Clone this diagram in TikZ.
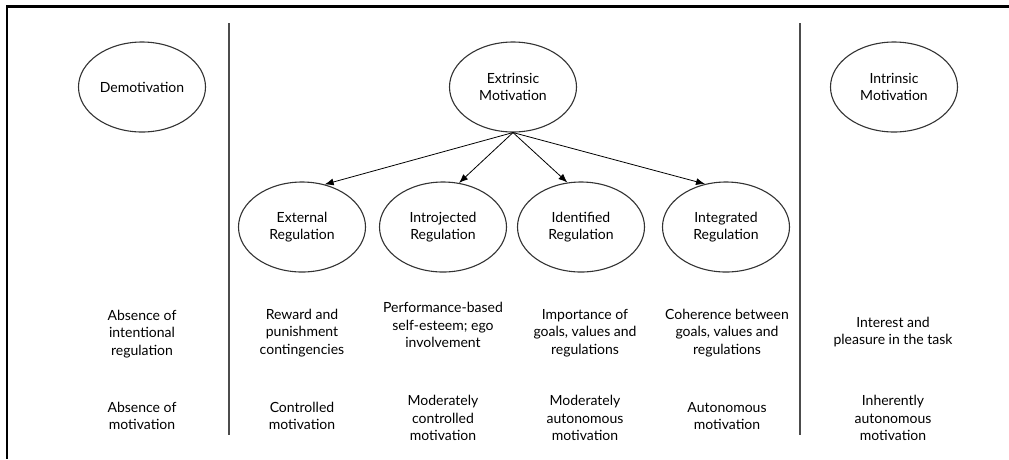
\documentclass[tikz,border=0pt]{standalone}
\usepackage{fontspec}
\setmainfont{Lato}
\usetikzlibrary{shapes.geometric,arrows.meta}

\begin{document}
\begin{tikzpicture}[x=1pt,y=-1pt,thick,>={Latex[length=9pt,width=7pt]},
    motive/.style={draw=black!80,line width=1.1pt,ellipse,minimum width=127pt,minimum height=90pt,inner sep=0pt,align=center,font=\fontsize{14}{17}\selectfont,text=black},
    note/.style={align=center,font=\fontsize{14}{17.5}\selectfont,text=black},
    divider/.style={draw=black!70,line width=1.3pt}]

    \useasboundingbox (0,0) rectangle (1009,459);

    % FRAME
    \draw[line width=2.2pt] (1009,6.5) -- (7,6.5) -- (7,459);

    % DIVIDERS
    \coordinate (d1t) at (229,23);
    \coordinate (d1b) at (229,435);
    \coordinate (d2t) at (800,23);
    \coordinate (d2b) at (800,435);
    \draw[divider] (d1t) to (d1b);
    \draw[divider] (d2t) to (d2b);

    % ROW 1
    \node[motive] (demot) at (142,87) {Demotivation};
    \node[motive] (extr) at (513,87) {Extrinsic\\Motivation};
    \node[motive] (intr) at (894,87) {Intrinsic\\Motivation};

    % ROW 2
    \node[motive] (extreg) at (302,227) {External\\Regulation};
    \node[motive] (introreg) at (443,227) {Introjected\\Regulation};
    \node[motive] (identreg) at (581,227) {Identified\\Regulation};
    \node[motive] (integreg) at (726,227) {Integrated\\Regulation};

    \draw[->] (extr.south) to (extreg.62);
    \draw[->] (extr.south) to (introreg.70);
    \draw[->] (extr.south) to (identreg.107);
    \draw[->] (extr.south) to (integreg.116);

    % ROW 3
    \node[note] (regdemot) at (142,334) {Absence of\\intentional\\regulation};
    \node[note] (regext) at (302,333) {Reward and\\punishment\\contingencies};
    \node[note] (regintro) at (443,325) {Performance-based\\self-esteem; ego\\involvement};
    \node[note] (regident) at (585,333) {Importance of\\goals, values and\\regulations};
    \node[note] (reginteg) at (727,333) {Coherence between\\goals, values and\\regulations};
    \node[note] (regintr) at (893,332) {Interest and\\pleasure in the task};

    % ROW 4
    \node[note] (motdemot) at (142,416) {Absence of\\motivation};
    \node[note] (motext) at (302,416) {Controlled\\motivation};
    \node[note] (motintro) at (443,418) {Moderately\\controlled\\motivation};
    \node[note] (motident) at (585,418) {Moderately\\autonomous\\motivation};
    \node[note] (motinteg) at (727,416) {Autonomous\\motivation};
    \node[note] (motintr) at (893,418) {Inherently\\autonomous\\motivation};

\end{tikzpicture}
\end{document}
